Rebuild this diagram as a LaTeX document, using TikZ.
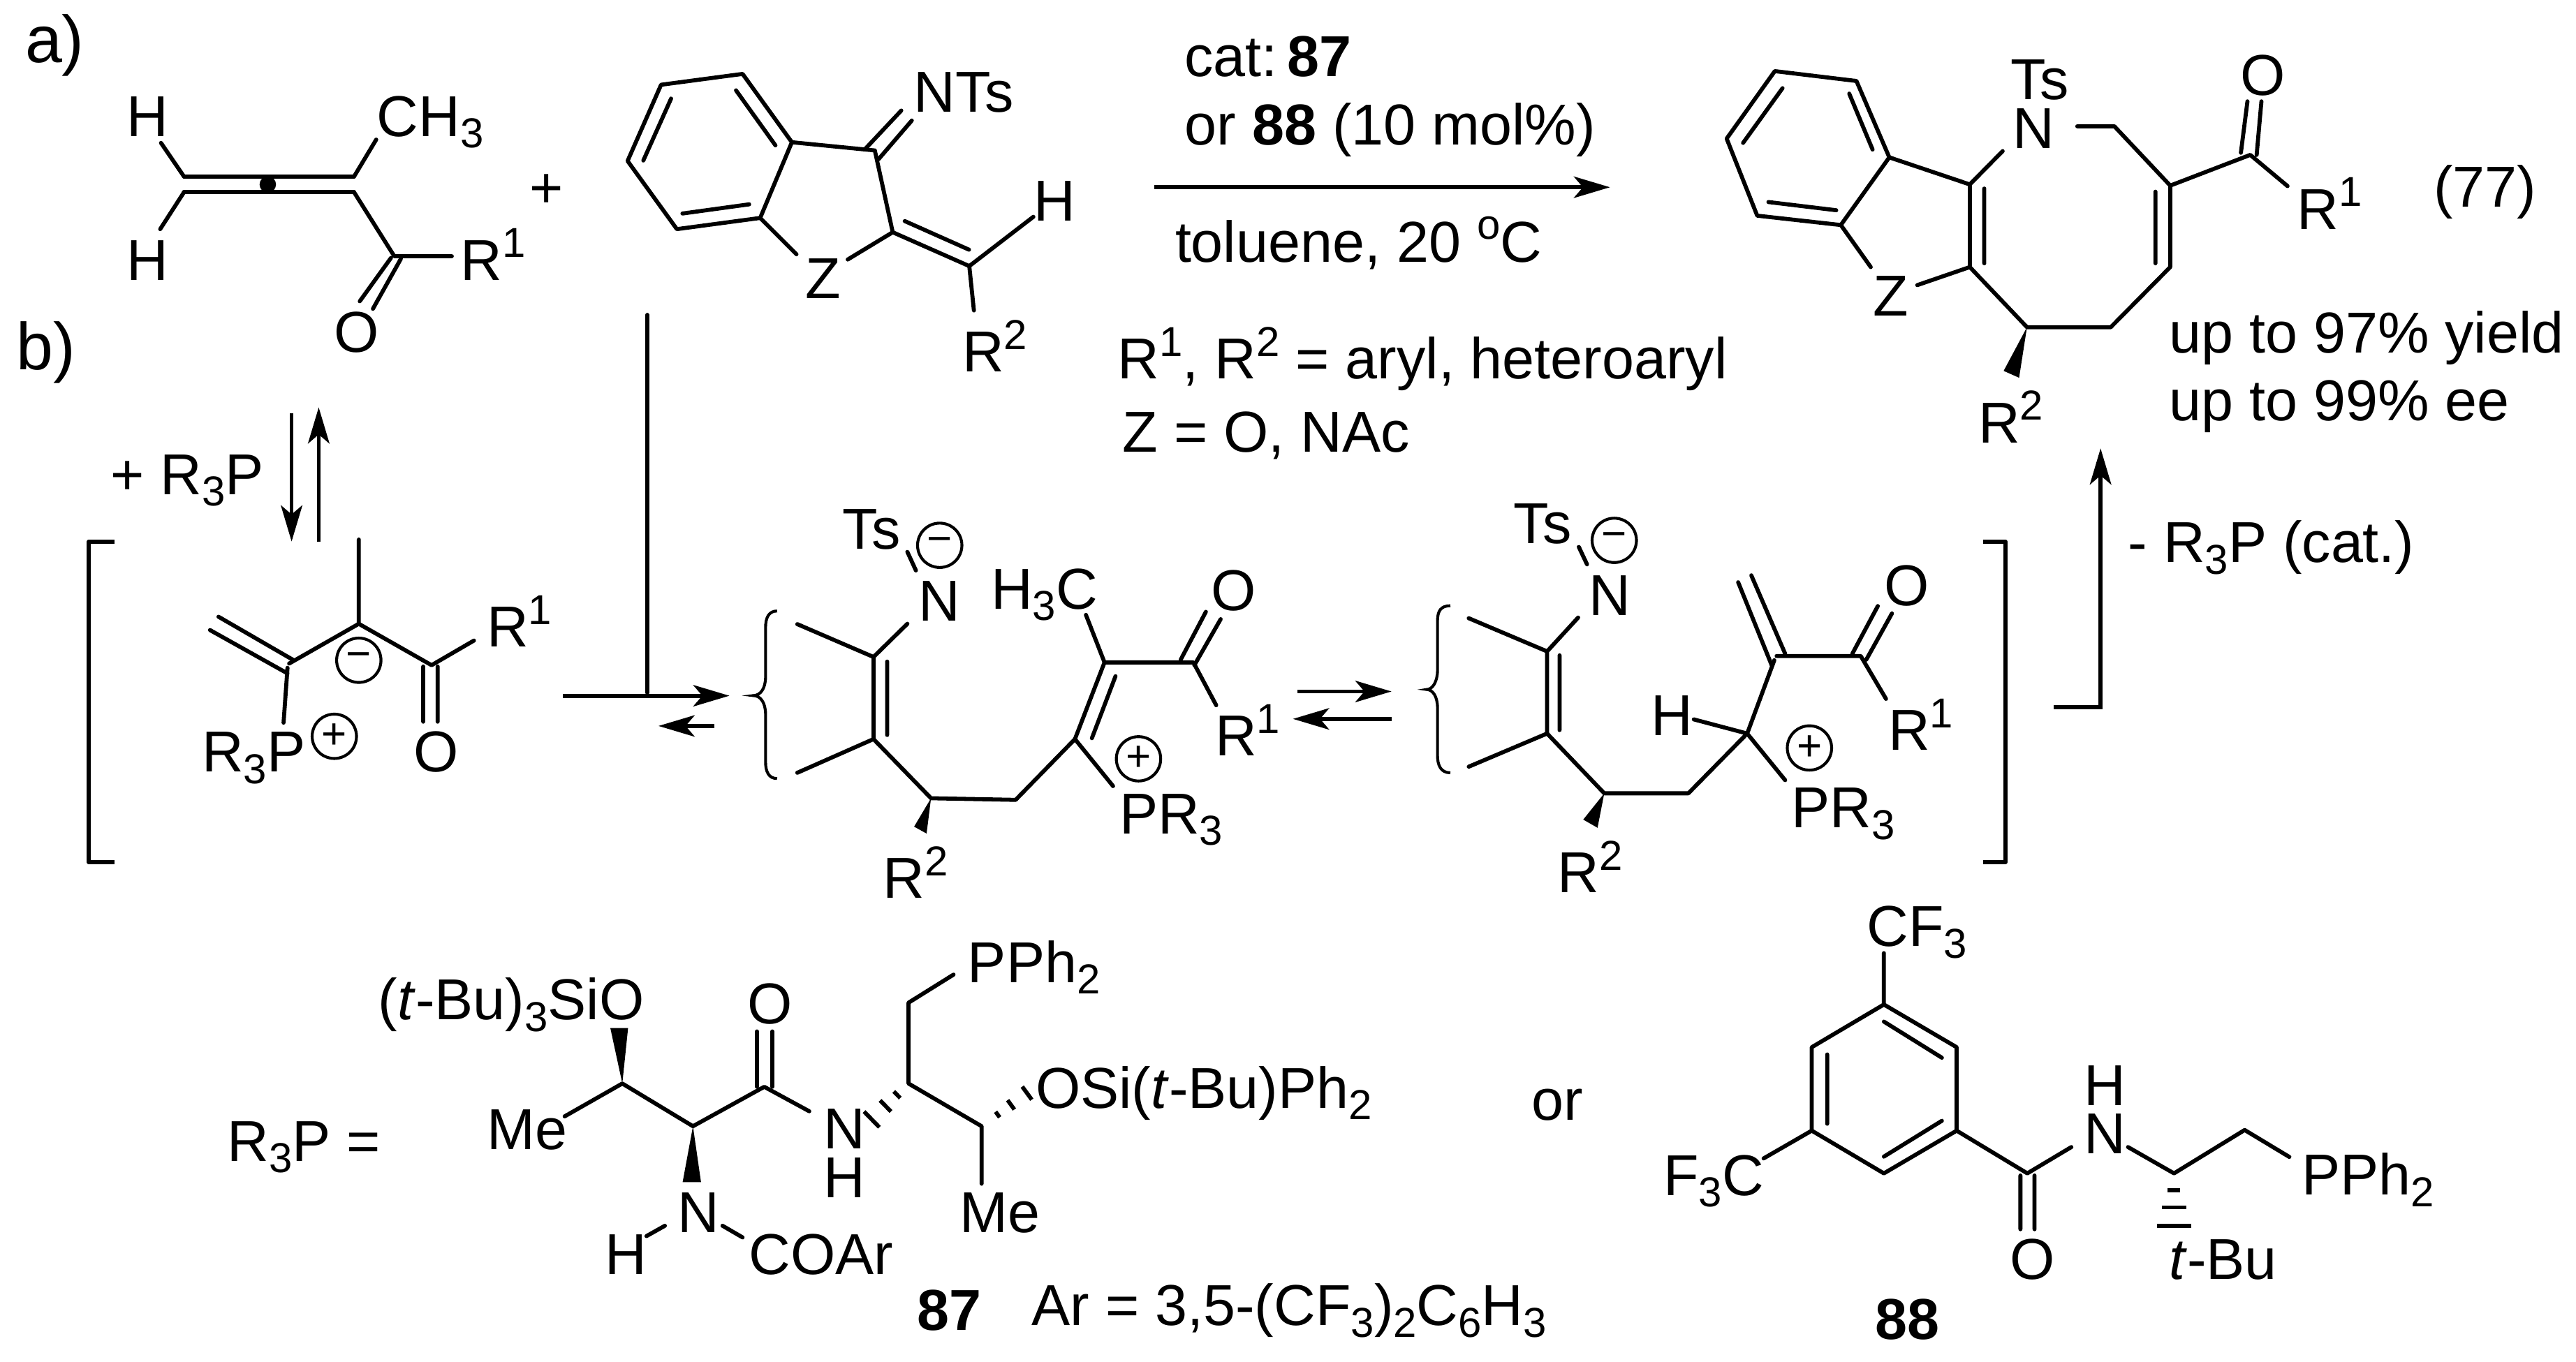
\documentclass[tikz,border=0pt]{standalone}
\usepackage{fontspec}
\setmainfont{Liberation Sans}
\usetikzlibrary{arrows.meta,calc}
\newcommand{\sbs}[1]{\raisebox{-4pt}{\fontsize{14.5}{16}\selectfont #1}}
\newcommand{\sps}[1]{\raisebox{7.8pt}{\fontsize{14.5}{16}\selectfont #1}}
\newcommand{\hashbond}[3]{\foreach \t/\w in {#3} \draw[bond,line cap=butt] ($(#1)!\t!(#2)!\w pt!90:(#2)$) -- ($(#1)!\t!(#2)!\w pt!-90:(#2)$);}

\begin{document}
\begin{tikzpicture}[x=0.02cm,y=-0.02cm,
    bond/.style={line width=1.4pt,line cap=round,line join=round},
    rxn/.style={line width=1.4pt,-{Stealth[length=4.4mm,width=2.6mm,inset=1.1mm]}},
    lbl/.style={anchor=base west,inner sep=0pt,font=\fontsize{20}{24}\selectfont},
    chg/.style={draw,circle,line width=1pt,inner sep=0pt,minimum size=.54cm,font=\fontsize{15}{16}\selectfont}]
    \useasboundingbox (0,0) rectangle (1568,829);

    \node[lbl,font=\fontsize{23}{26}\selectfont] (laba) at (15,38) {a)};
    \node[lbl,font=\fontsize{23}{26}\selectfont] (labb) at (9.5,225) {b)};

    % allene
    \foreach \n/\x/\y in {alu1/112/107.5,alu2/215.5/107.5,ald1/112/117,ald2/215.5/117,alh1/98/87,alh2/97.5/139.5,
        alme/229/85,alco/240/156,alr/275/156,alo1/238/157,alo2/219/183.4,alo3/244/157.6,alo4/227/188}
        \coordinate (\n) at (\x,\y);
    \node[lbl] (alH1) at (77,83) {H};
    \node[lbl] (alH2) at (77,170.5) {H};
    \node[lbl] (alCH) at (229,83) {CH\sbs{3}};
    \node[lbl] (alR) at (280,170.5) {R\sps{1}};
    \node[lbl] (alO) at (203,214.4) {O};
    \node[draw=none,fill,circle,inner sep=0pt,minimum size=.2cm] (aldot) at (163,112.3) {};
    \draw[bond] (alu1) -- (alu2);
    \draw[bond] (ald1) -- (ald2);
    \draw[bond] (alh1) -- (alu1) (alh2) -- (ald1);
    \draw[bond] (alme) -- (alu2) (ald2) -- (alco) -- (alr);
    \draw[bond] (alo1) -- (alo2) (alo3) -- (alo4);
    \node[lbl] (plus) at (322,126.4) {+};

    % imine
    \foreach \n/\x/\y in {bz1/452/45,bz2/402.4/51.6,bz3/382/98,bz4/412/139.5,bz5/462.7/132.7,bz6/482/86.6,
        in1a/448/55,in1b/472/88.5,in2a/408.5/60,in2b/391.6/97.7,in3a/415.4/130,in3b/456/124.4,
        imc/532.5/91.6,imn1/527/90.3,imn2/548.6/67.3,imn3/534.7/97,imn4/555/73.4,imd/543.4/141.4,
        imz1/484.8/154.8,imz2/516/158,ime/590/162,ime1/550.7/134.6,ime2/589.8/152,imh/629/132,imr/592.8/189}
        \coordinate (\n) at (\x,\y);
    \node[lbl] (imNT) at (556,68.2) {NTs};
    \node[lbl] (imH) at (629,134.6) {H};
    \node[lbl] (imZ) at (490,181.6) {Z};
    \node[lbl] (imR) at (585.4,226.4) {R\sps{2}};
    \draw[bond] (bz1) -- (bz2) -- (bz3) -- (bz4) -- (bz5) -- (bz6) -- cycle;
    \draw[bond] (in1a) -- (in1b) (in2a) -- (in2b) (in3a) -- (in3b);
    \draw[bond] (bz6) -- (imc) -- (imd) -- (ime) -- (imh) (ime) -- (imr);
    \draw[bond] (imn1) -- (imn2) (imn3) -- (imn4) (ime1) -- (ime2);
    \draw[bond] (bz5) -- (imz1) (imd) -- (imz2);

    % conditions
    \coordinate (ar1a) at (702.6,114);
    \coordinate (ar1b) at (980,114);
    \draw[rxn] (ar1a) -- (ar1b);
    \node[lbl] (cat) at (720.8,46.5) {cat:\,\textbf{87}};
    \node[lbl] (or) at (720.8,88) {or \textbf{88} (10 mol\%)};
    \node[lbl] (sol) at (715,159.4) {toluene, 20 \sps{o}C};
    \node[lbl] (rdef) at (680,230.5) {R\sps{1}, R\sps{2} = aryl, heteroaryl};
    \node[lbl] (zdef) at (683,275) {Z = O, NAc};

    % product
    \foreach \n/\x/\y in {pb1/1080.3/43.3,pb2/1130/49.3,pb3/1150/95.8,pb4/1120.5/137,pb5/1069.6/131.3,pb6/1051/84.4,
        pi1a/1125.6/57,pi1b/1139.8/91,pi2a/1085/53.7,pi2b/1061/87,pi3a/1076.4/123,pi3b/1117.7/128,
        pc1/1199/112.3,pc2/1199/162.6,pd1/1207.8/114.8,pd2/1207.8/160.3,pn/1219/92,pm1/1264.4/76.9,pm2/1287/76.9,
        pc3/1321/113,pc4/1321/162.6,pd3/1312/116.7,pd4/1312/160.3,pc5/1284.8/199.2,pc6/1233.8/199.2,
        pw1/1219.6/225.8,pw2/1229/230,pz1/1138.7/162.6,pz2/1167/173.6,pco/1369.7/94.3,
        po1/1364/93,po2/1368/61.7,po3/1373.6/94.3,po4/1376.5/61.7,pr/1392.4/113.3}
        \coordinate (\n) at (\x,\y);
    \node[lbl] (pTs) at (1223.6,60.7) {Ts};
    \node[lbl] (pN) at (1224.7,90.5) {N};
    \node[lbl] (pO) at (1363.5,57.9) {O};
    \node[lbl] (pR1) at (1398,139.5) {R\sps{1}};
    \node[lbl] (pnum) at (1481,126) {(77)};
    \node[lbl] (pZ) at (1139.8,192.2) {Z};
    \node[lbl] (pR2) at (1203.8,269.5) {R\sps{2}};
    \node[lbl] (pyield) at (1320,215) {up to 97\% yield};
    \node[lbl] (pee) at (1320,256) {up to 99\% ee};
    \draw[bond] (pb1) -- (pb2) -- (pb3) -- (pb4) -- (pb5) -- (pb6) -- cycle;
    \draw[bond] (pi1a) -- (pi1b) (pi2a) -- (pi2b) (pi3a) -- (pi3b);
    \draw[bond] (pb3) -- (pc1) -- (pc2) -- (pc6) -- (pc5) -- (pc4) -- (pc3) -- (pm2) -- (pm1);
    \draw[bond] (pc1) -- (pn) (pd1) -- (pd2) (pd3) -- (pd4);
    \draw[bond] (pb4) -- (pz1) (pc2) -- (pz2);
    \draw[bond] (pc3) -- (pco) -- (pr) (po1) -- (po2) (po3) -- (po4);
    \fill (pc6) -- (pw1) -- (pw2) -- cycle;

    % phosphine step and zwitterion
    \foreach \n/\x/\y in {eq1a/177.5/251.6,eq1b/177.5/329.7,eq2a/194/329.7,eq2b/194/248,
        br1/69.5/329.7,br2/54/329.7,br3/54/525,br4/69.5/525,
        ze1/218.4/328.5,ze2/218.4/379.8,ze3/176/404,ze4/262.7/405,ze5/288.5/390,
        zd1/133/375.5,zd2/178.8/402,zd3/127.8/383.6,zd4/175/410,zp1/175/406.6,zp2/172.6/440,
        zo1/257.6/405.8,zo2/257.6/439.4,zo3/266.4/405.8,zo4/266.4/439.4}
        \coordinate (\n) at (\x,\y);
    \draw[rxn] (eq1a) -- (eq1b);
    \draw[rxn] (eq2a) -- (eq2b);
    \node[lbl] (addP) at (67,301) {+ R\sbs{3}P};
    \draw[bond,line cap=butt] (br1) -- (br2) -- (br3) -- (br4);
    \draw[bond] (ze1) -- (ze2) -- (ze3) (ze2) -- (ze4) -- (ze5);
    \draw[bond] (zd1) -- (zd2) (zd3) -- (zd4) (zp1) -- (zp2) (zo1) -- (zo2) (zo3) -- (zo4);
    \node[chg] (zmin) at (218.4,402) {−};
    \node[chg] (zpls) at (203.5,448.3) {+};
    \node[lbl] (zP) at (122.6,470) {R\sbs{3}P};
    \node[lbl] (zO) at (251.4,470) {O};
    \node[lbl] (zR) at (296,394) {R\sps{1}};

    % arrows into intermediates
    \foreach \n/\x/\y in {vl1/394/191.7,vl2/394/421.8,ar2a/342.6/423.6,ar2b/444/423.6,ar3a/435/442,ar3b/400.8/442,
        ar4a/789.6/421,ar4b/847/421,ar5a/847/437.7,ar5b/787/437.7,
        ar6a/1250/430.7,ar6b/1278.6/430.7,ar6c/1278.6/273}
        \coordinate (\n) at (\x,\y);
    \draw[bond] (vl1) -- (vl2);
    \draw[rxn] (ar2a) -- (ar2b);
    \draw[rxn] (ar3a) -- (ar3b);
    \draw[rxn] (ar4a) -- (ar4b);
    \draw[rxn] (ar5a) -- (ar5b);
    \draw[rxn,line join=miter] (ar6a) -- (ar6b) -- (ar6c);
    \node[lbl] (loseP) at (1295,342.4) {- R\sbs{3}P (cat.)};

    % first intermediate
    \foreach \n/\x/\y in {ia1/485.3/380,ia2/531.7/400,ia3/531.7/450,ia4/485.3/470.5,ia5/552.3/379.8,ia6/540/402.8,ia7/540/447.5,
        ia8/557.5/347.3,ia9/552.3/336,ia10/566.7/486,ia11/618.2/487,ia12/654.3/450,ia13/672.3/403.3,ia14/679/411.7,ia15/664.6/449.5,
        ia16/661/374.4,ia17/726.4/403.3,ia18/718.7/401.6,ia19/734/372.5,ia20/727/405,ia21/743/377,ia22/740.3/429.4,ia23/677.5/478.6,
        ia24/556.4/503.3,ia25/564/507.5,ib1/473/372,ib2/466/382,ib3/466/412,ib4/458.5/423.5,ib5/466/435,ib6/466/464,ib7/473/474}
        \coordinate (\n) at (\x,\y);
    \draw[line width=1pt] (ib1) .. controls (468,372) and (466,376) .. (ib2) -- (ib3) .. controls (466,419) and (463,423.5) .. (ib4)
        .. controls (463,423.5) and (466,428) .. (ib5) -- (ib6) .. controls (466,470) and (468,474) .. (ib7);
    \draw[bond] (ia1) -- (ia2) -- (ia3) -- (ia4) (ia2) -- (ia5) (ia6) -- (ia7) (ia8) -- (ia9);
    \draw[bond] (ia3) -- (ia10) -- (ia11) -- (ia12) -- (ia13) -- (ia17) -- (ia22);
    \draw[bond] (ia14) -- (ia15) (ia13) -- (ia16) (ia18) -- (ia19) (ia20) -- (ia21) (ia12) -- (ia23);
    \fill (ia10) -- (ia24) -- (ia25) -- cycle;
    \node[lbl] (iaTs) at (512.6,334.4) {Ts};
    \node[chg] (iamin) at (572,332) {−};
    \node[lbl] (iaN) at (559,378) {N};
    \node[lbl] (iaCH) at (602.8,370.8) {H\sbs{3}C};
    \node[lbl] (iaO) at (736.7,371.9) {O};
    \node[lbl] (iaR1) at (739.3,460) {R\sps{1}};
    \node[chg] (iapls) at (693,462) {+};
    \node[lbl] (iaP) at (681,507.5) {PR\sbs{3}};
    \node[lbl] (iaR2) at (537.3,547) {R\sps{2}};

    % second intermediate
    \foreach \n/\x/\y in {ja1/894/376.4,ja2/941.7/396.6,ja3/941.7/446.6,ja4/894/466.8,ja5/960.6/376,ja6/949.3/399,ja7/949.3/444.5,
        ja8/966/343.6,ja9/961/333,ja10/976.5/483,ja11/1027.7/483,ja12/1063.5/446.6,ja13/1031/438,ja14/1086.6/475,ja15/1080/402,
        ja16/1066/350.3,ja17/1086.6/398,ja18/1058/354.5,ja19/1078.4/405,ja20/1132.6/399.4,ja21/1127.5/398,ja22/1143/369,
        ja23/1136/401.6,ja24/1151.6/373.5,ja25/1148/425.5,ja26/963.7/499,ja27/972.4/504,ja28/1081.4/399.4,
        jb1/882.8/368.8,jb2/875/378,jb3/875/408,jb4/868.4/419.8,jb5/875/431,jb6/875/460,jb7/882.8/470.5,
        rb1/1207/329.7,rb2/1220.7/329.7,rb3/1220.7/525,rb4/1207/525}
        \coordinate (\n) at (\x,\y);
    \draw[line width=1pt] (jb1) .. controls (877,368.8) and (875,372) .. (jb2) -- (jb3) .. controls (875,415) and (872,419.8) .. (jb4)
        .. controls (872,419.8) and (875,424) .. (jb5) -- (jb6) .. controls (875,466) and (877,470.5) .. (jb7);
    \draw[bond] (ja1) -- (ja2) -- (ja3) -- (ja4) (ja2) -- (ja5) (ja6) -- (ja7) (ja8) -- (ja9);
    \draw[bond] (ja3) -- (ja10) -- (ja11) -- (ja12) -- (ja15) (ja12) -- (ja13) (ja12) -- (ja14);
    \draw[bond] (ja16) -- (ja17) (ja18) -- (ja19) (ja28) -- (ja20) -- (ja25) (ja21) -- (ja22) (ja23) -- (ja24);
    \fill (ja10) -- (ja26) -- (ja27) -- cycle;
    \draw[bond,line cap=butt] (rb1) -- (rb2) -- (rb3) -- (rb4);
    \node[lbl] (jaTs) at (921,330.7) {Ts};
    \node[chg] (jamin) at (982.6,329) {−};
    \node[lbl] (jaN) at (967,374.7) {N};
    \node[lbl] (jaH) at (1004.6,447.8) {H};
    \node[lbl] (jaO) at (1146.5,368.8) {O};
    \node[lbl] (jaR1) at (1149,456.6) {R\sps{1}};
    \node[chg] (japls) at (1101.4,455.4) {+};
    \node[lbl] (jaP) at (1090,504) {PR\sbs{3}};
    \node[lbl] (jaR2) at (947.8,543.6) {R\sps{2}};

    % catalyst 87
    \foreach \n/\x/\y in {ka/378.8/659.7,kb/421.8/685.7,kc/465.2/661.7,kd/553/659.7,ke/597.5/685.7,
        kw1/371.5/625.9,kw2/382.3/625.9,kw3/415.5/719.8,kw4/426.7/719.8,kme/343.7/679.7,kn/492.6/676.6,
        ko1/460.8/661.7,ko2/460.8/628,ko3/470.1/661.7,ko4/470.1/628,kf/553/610.5,kp/580.4/593.4,kme2/597.5/720.7,
        kh1/404.7/746.3,kh2/393.5/752.6,kc1/439.8/746.3,kc2/452/753.4,khn/525/687,kho/630/662}
        \coordinate (\n) at (\x,\y);
    \node[lbl] (kR) at (138,707) {R\sbs{3}P =};
    \node[lbl] (kSi) at (230,620.8) {(\textit{t}-Bu)\sbs{3}SiO};
    \node[lbl] (kMe) at (296,699.7) {Me};
    \node[lbl] (kO) at (454.5,623.3) {O};
    \node[lbl] (kPP) at (588.7,598.2) {PPh\sbs{2}};
    \node[lbl] (kN) at (500.9,699.3) {N};
    \node[lbl] (kH) at (500.9,729.2) {H};
    \node[lbl] (kOS) at (630,674.6) {OSi(\textit{t}-Bu)Ph\sbs{2}};
    \node[lbl] (kN2) at (412,750.2) {N};
    \node[lbl] (kH2) at (368,775.7) {H};
    \node[lbl] (kCO) at (455.5,775.7) {COAr};
    \node[lbl] (kMe2) at (583.8,750.5) {Me};
    \node[lbl] (k87) at (558,810) {\textbf{87}};
    \node[lbl] (kAr) at (627.7,807) {Ar = 3,5-(CF\sbs{3})\sbs{2}C\sbs{6}H\sbs{3}};
    \draw[bond] (kme) -- (ka) -- (kb) -- (kc) -- (kn);
    \draw[bond] (ko1) -- (ko2) (ko3) -- (ko4);
    \draw[bond] (kp) -- (kf) -- (kd) -- (ke) -- (kme2);
    \draw[bond] (kh1) -- (kh2) (kc1) -- (kc2);
    \fill (ka) -- (kw1) -- (kw2) -- cycle;
    \fill (kb) -- (kw3) -- (kw4) -- cycle;
    \hashbond{kd}{khn}{.25/1.6,.5/2.7,.8/3.8}
    \hashbond{ke}{kho}{.3/1.2,.55/2,.85/2.8}

    % catalyst 88
    \foreach \n/\x/\y in {m1/1146.7/611.6,m2/1191/637.6,m3/1191/688.4,m4/1146.7/714.4,m5/1102.8/688.4,m6/1102.8/637.6,
        mi1/1146.7/622,mi2/1182/644,mi3/1112.2/642,mi4/1112.2/684.2,mi5/1146.7/704.2,mi6/1182/682.4,
        mcf/1146.7/580.3,mfc/1073.5/705.3,mc/1234/714.4,md1/1229.8/715.7,md2/1229.8/748.4,md3/1238.4/715.7,md4/1238.4/748.4,
        mn/1260.8/698.4,mn2/1295.3/698.4,mt/1323.3/714.4,mu/1366.3/688,mp/1393.5/704.4,mtb/1323.3/752}
        \coordinate (\n) at (\x,\y);
    \draw[bond] (m1) -- (m2) -- (m3) -- (m4) -- (m5) -- (m6) -- cycle;
    \draw[bond] (mi1) -- (mi2) (mi3) -- (mi4) (mi5) -- (mi6);
    \draw[bond] (m1) -- (mcf) (m5) -- (mfc) (m3) -- (mc) -- (mn) (md1) -- (md2) (md3) -- (md4);
    \draw[bond] (mn2) -- (mt) -- (mu) -- (mp);
    \hashbond{mt}{mtb}{.27/2.2,.55/4.2,.85/6}
    \node[lbl] (mor) at (932,682) {or};
    \node[lbl] (mCF) at (1136,576.3) {CF\sbs{3}};
    \node[lbl] (mFC) at (1012.3,727.8) {F\sbs{3}C};
    \node[lbl] (mH) at (1268,673) {H};
    \node[lbl] (mN) at (1268,702.4) {N};
    \node[lbl] (mO) at (1223.3,778.7) {O};
    \node[lbl] (mPP) at (1400.8,727.5) {PPh\sbs{2}};
    \node[lbl] (mtB) at (1320,778.7) {\textit{t}-Bu};
    \node[lbl] (m88) at (1141,815.6) {\textbf{88}};
\end{tikzpicture}
\end{document}
